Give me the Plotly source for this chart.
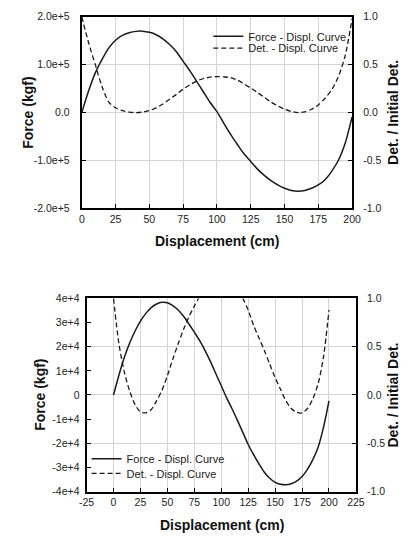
import plotly.graph_objects as go

# ---------------- data ----------------
disp = [0, 5, 10, 15, 20, 25, 30, 35, 40, 45, 50, 55, 60, 65, 70, 75, 80, 85, 90, 95,
        100, 105, 110, 115, 120, 125, 130, 135, 140, 145, 150, 155, 160, 165, 170, 175,
        180, 185, 190, 195, 200]

# top chart
force_top = [0, 0.45e5, 0.83e5, 1.11e5, 1.35e5, 1.51e5, 1.61e5, 1.665e5, 1.695e5, 1.70e5,
             1.675e5, 1.625e5, 1.54e5, 1.42e5, 1.27e5, 1.07e5, 0.87e5, 0.65e5, 0.43e5, 0.21e5,
             0.02e5, -0.22e5, -0.45e5, -0.66e5, -0.86e5, -1.02e5, -1.18e5, -1.31e5, -1.42e5,
             -1.51e5, -1.58e5, -1.625e5, -1.64e5, -1.625e5, -1.58e5, -1.51e5, -1.40e5,
             -1.22e5, -0.99e5, -0.63e5, -0.09e5]
det_top = [1.0, 0.73, 0.50, 0.27, 0.11, 0.05, 0.02, 0.005, 0.0, 0.005, 0.02, 0.05, 0.09,
           0.14, 0.19, 0.245, 0.29, 0.33, 0.355, 0.37, 0.375, 0.372, 0.365, 0.34, 0.30,
           0.255, 0.21, 0.16, 0.11, 0.07, 0.035, 0.012, 0.0, 0.008, 0.035, 0.08, 0.15,
           0.24, 0.38, 0.60, 0.98]

# bottom chart
force_bot = [0, 0.82e4, 1.55e4, 2.15e4, 2.65e4, 3.06e4, 3.38e4, 3.62e4, 3.77e4, 3.84e4,
             3.82e4, 3.70e4, 3.52e4, 3.26e4, 2.94e4, 2.60e4, 2.25e4, 1.84e4, 1.38e4, 0.88e4,
             0.38e4, -0.12e4, -0.57e4, -1.05e4, -1.55e4, -2.05e4, -2.47e4, -2.85e4, -3.20e4,
             -3.45e4, -3.62e4, -3.70e4, -3.72e4, -3.68e4, -3.57e4, -3.38e4, -3.08e4,
             -2.68e4, -2.15e4, -1.32e4, -0.24e4]
det_bot = [1.0, 0.53, 0.24, 0.04, -0.10, -0.175, -0.185, -0.15, -0.06, 0.05, 0.20, 0.37,
           0.53, 0.68, 0.81, 0.92, 1.02, 1.10, 1.16, 1.19, 1.20, 1.19, 1.15, 1.08, 1.0,
           0.88, 0.72, 0.59, 0.46, 0.32, 0.18, 0.06, -0.06, -0.14, -0.18, -0.185, -0.14,
           -0.04, 0.12, 0.40, 0.88]

# tick labels
x_top_vals = [0, 25, 50, 75, 100, 125, 150, 175, 200]
x_top_text = ["0", "25", "50", "75", "100", "125", "150", "175", "200"]
x_bot_vals = [-25, 0, 25, 50, 75, 100, 125, 150, 175, 200, 225]
x_bot_text = ["-25", "0", "25", "50", "75", "100", "125", "150", "175", "200", "225"]
yl_top_vals = [-2e5, -1e5, 0, 1e5, 2e5]
yl_top_text = ["-2.0e+5", "-1.0e+5", "0.0", "1.0e+5", "2.0e+5"]
yl_bot_vals = [-4e4, -3e4, -2e4, -1e4, 0, 1e4, 2e4, 3e4, 4e4]
yl_bot_text = ["-4e+4", "-3e+4", "-2e+4", "-1e+4", "0", "1e+4", "2e+4", "3e+4", "4e+4"]
yr_vals = [-1.0, -0.5, 0.0, 0.5, 1.0]
yr_text = ["-1.0", "-0.5", "0.0", "0.5", "1.0"]

series_names = ["Force - Displ. Curve", "Det. - Displ. Curve"]

# ---------------- figure ----------------
W, H = 409, 544
FONT = "Liberation Sans, Arial, Helvetica, sans-serif"
GRID = "#d4d4d4"

def px_x(p):
    return p / W

def px_y(p):
    return 1 - p / H

top_dom_x = [px_x(77), px_x(359)]
top_dom_y = [px_y(207), px_y(11)]
bot_dom_x = [px_x(82), px_x(363)]
bot_dom_y = [px_y(496.5), px_y(299)]

solid = dict(color="#1a1a1a", width=1.5)
dashed = dict(color="#1a1a1a", width=1.3, dash="5px,3px")

fig = go.Figure()
fig.add_trace(go.Scatter(x=disp, y=force_top, name=series_names[0], mode="lines",
                         line=dict(solid, shape="spline", smoothing=0.8),
                         xaxis="x", yaxis="y", legend="legend", showlegend=True))
fig.add_trace(go.Scatter(x=disp, y=det_top, name=series_names[1], mode="lines",
                         line=dict(dashed, shape="spline", smoothing=0.8),
                         xaxis="x", yaxis="y2", legend="legend2", showlegend=True))
fig.add_trace(go.Scatter(x=disp, y=force_bot, name=series_names[0], mode="lines",
                         line=dict(solid, shape="spline", smoothing=0.8),
                         xaxis="x3", yaxis="y3", legend="legend3", showlegend=True))
fig.add_trace(go.Scatter(x=disp, y=det_bot, name=series_names[1], mode="lines",
                         line=dict(dashed, shape="spline", smoothing=0.8),
                         xaxis="x3", yaxis="y4", legend="legend4", showlegend=True))

tickfont = dict(family=FONT, size=10.5, color="#222")
common_axis = dict(showline=True, linecolor="black", linewidth=2, ticks="inside",
                   ticklen=4, tickcolor="black", tickwidth=1, zeroline=False,
                   tickfont=tickfont, gridcolor=GRID, gridwidth=1)

legend_style = dict(xanchor="left", yanchor="middle", bgcolor="rgba(0,0,0,0)",
                    borderwidth=0, font=dict(family=FONT, size=11, color="#222"))

fig.update_layout(
    width=W, height=H,
    margin=dict(l=0, r=0, t=0, b=0),
    showlegend=True,
    paper_bgcolor="white", plot_bgcolor="white",
    font=dict(family=FONT, color="#222"),
    xaxis=dict(common_axis, domain=top_dom_x, anchor="y", range=[0, 200],
               tickmode="array", tickvals=x_top_vals, ticktext=x_top_text,
               showgrid=True, mirror=True),
    yaxis=dict(common_axis, domain=top_dom_y, anchor="x", range=[-2e5, 2e5],
               tickmode="array", tickvals=yl_top_vals, ticktext=yl_top_text,
               showgrid=True, ticklabelstandoff=8),
    yaxis2=dict(common_axis, anchor="x", overlaying="y", side="right", range=[-1, 1],
                tickmode="array", tickvals=yr_vals, ticktext=yr_text, showgrid=False,
                ticklabelstandoff=7),
    xaxis3=dict(common_axis, domain=bot_dom_x, anchor="y3", range=[-25, 225],
                tickmode="array", tickvals=x_bot_vals, ticktext=x_bot_text,
                showgrid=True, mirror=True),
    yaxis3=dict(common_axis, domain=bot_dom_y, anchor="x3", range=[-4e4, 4e4],
                tickmode="array", tickvals=yl_bot_vals, ticktext=yl_bot_text,
                showgrid=False, ticklabelstandoff=3),
    yaxis4=dict(common_axis, anchor="x3", overlaying="y3", side="right", range=[-1, 1],
                tickmode="array", tickvals=yr_vals, ticktext=yr_text, showgrid=True,
                ticklabelstandoff=7),
    legend=dict(legend_style, x=px_x(209), y=px_y(31), visible=True),
    legend2=dict(legend_style, x=px_x(209), y=px_y(43), visible=True),
    legend3=dict(legend_style, x=px_x(82), y=px_y(463), visible=True),
    legend4=dict(legend_style, x=px_x(82), y=px_y(478), visible=True),
)

title_font = dict(family=FONT, size=14, color="#111", weight="bold")
annots = [
    dict(text="Displacement (cm)", x=px_x(218), y=px_y(240.7)),
    dict(text="Displacement (cm)", x=px_x(223), y=px_y(530.7)),
    dict(text="Force (kgf)", x=px_x(20), y=px_y(109), textangle=-90),
    dict(text="Force (kgf)", x=px_x(34), y=px_y(398), textangle=-90),
    dict(text="Det. / Initial Det.", x=px_x(401), y=px_y(109), textangle=-90),
    dict(text="Det. / Initial Det.", x=px_x(402), y=px_y(398), textangle=-90),
]
for a in annots:
    fig.add_annotation(xref="paper", yref="paper", xanchor="center", yanchor="middle",
                       showarrow=False, font=title_font, **a)

fig.write_html("out.html")
